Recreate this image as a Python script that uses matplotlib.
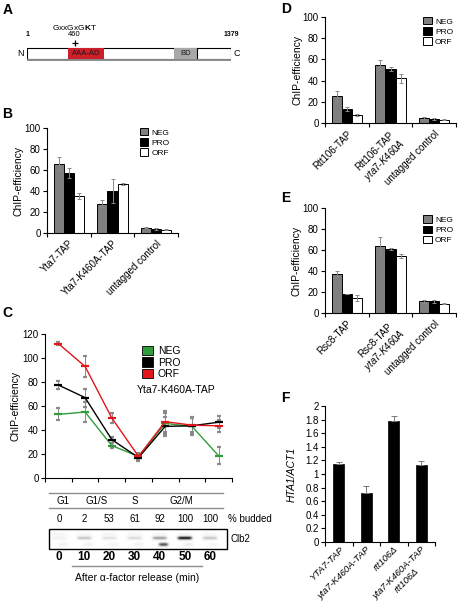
import numpy as np
import matplotlib
matplotlib.use('Agg')
import matplotlib.pyplot as plt
from matplotlib.patches import Rectangle, Patch
from matplotlib.transforms import ScaledTranslation

plt.rcParams['font.family'] = ['Liberation Sans', 'DejaVu Sans']
plt.rcParams['mathtext.fontset'] = 'custom'
plt.rcParams['mathtext.rm'] = 'Liberation Sans'
plt.rcParams['mathtext.it'] = 'Liberation Sans:italic'
plt.rcParams['mathtext.bf'] = 'Liberation Sans:bold'

# ---------------- data ----------------
series = ['NEG', 'PRO', 'ORF']
bar_colors = ['#7f7f7f', '#000000', '#ffffff']

# panel A (protein schematic, residue units)
prot_len = 1379
motif_pos = 323
motif_label = '460'
motif_seq = 'GxxGxG$\\mathbf{K}$T'
domains = [('AAA-AD', 275, 524, '#cc1f2a'), ('BD', 995, 1150, '#a8a8a8')]

# panel B
b_cats = ['Yta7-TAP', 'Yta7-K460A-TAP', 'untagged control']
b_vals = {'NEG': [66, 28, 5], 'PRO': [57, 40, 4], 'ORF': [35, 47, 3]}
b_err = {'NEG': [6, 3, 0.7], 'PRO': [5, 11, 0.7], 'ORF': [3, 1, 0.5]}

# panel C
c_times = [0, 10, 20, 30, 40, 50, 60]
c_vals = {'NEG': [53, 55, 27, 18, 45.5, 43, 18.5],
          'PRO': [77.5, 67, 32, 17, 43, 43.5, 46.5],
          'ORF': [112, 93, 50, 18, 47, 44, 43.5]}
c_err = {'NEG': [5, 8, 2, 3, 9, 7, 7],
         'PRO': [3.5, 7.5, 2.5, 2.5, 8, 7, 5],
         'ORF': [1, 9, 4.5, 2, 9, 6, 5]}
c_colors = {'NEG': '#2f9e3a', 'PRO': '#000000', 'ORF': '#e3161c'}
phases = ['G1', 'G1/S', 'S', 'G2/M']
phase_pos = [0.15, 1.5, 3.0, 4.85]
budded = [0, 2, 53, 61, 92, 100, 100]
clb2_upper = [0.12, 0.35, 0.22, 0.25, 0.5, 0.95, 0.35]
clb2_lower = [0.10, 0.12, 0.10, 0.12, 0.75, 0.15, 0.08]

# panel D
d_cats = ['Rtt106-TAP', 'Rtt106-TAP\n$\\it{yta7}$-$\\it{K460A}$', 'untagged control']
d_vals = {'NEG': [25, 55, 5], 'PRO': [13, 51, 4], 'ORF': [7.5, 42, 3]}
d_err = {'NEG': [5, 4, 1], 'PRO': [2, 2, 1], 'ORF': [1, 4, 0.5]}

# panel E
e_cats = ['Rsc8-TAP', 'Rsc8-TAP\n$\\it{yta7}$-$\\it{K460A}$', 'untagged control']
e_vals = {'NEG': [37, 64, 11], 'PRO': [18, 61, 11], 'ORF': [14, 54, 9]}
e_err = {'NEG': [3, 8, 1], 'PRO': [0.3, 1, 1], 'ORF': [3, 2, 0.5]}

# panel F
f_cats = ['YTA7-TAP', 'yta7-K460A-TAP', 'rtt106Δ', 'yta7-K460A-TAP\nrtt106Δ']
f_vals = [1.15, 0.72, 1.78, 1.13]
f_err = [0.03, 0.10, 0.07, 0.06]

# ---------------- figure ----------------
W, H = 458, 612
fig = plt.figure(figsize=(W / 100, H / 100), dpi=100)


def px_axes(x0, y0, x1, y1):
    return fig.add_axes([x0 / W, 1 - y1 / H, (x1 - x0) / W, (y1 - y0) / H])


def style(ax):
    for s in ['top', 'right']:
        ax.spines[s].set_visible(False)
    for s in ['left', 'bottom']:
        ax.spines[s].set_linewidth(0.8)
    ax.tick_params(axis='y', direction='out', length=3, width=0.8, labelsize=7, pad=1.5)


def cat_xaxis(ax, n, labels, fontsize=7, style_=None, dx=4, pad=4):
    ax.set_xlim(-0.5, n - 0.5)
    ax.set_xticks(np.arange(n))
    ax.set_xticklabels(labels, rotation=45, ha='right', rotation_mode='anchor',
                       fontsize=fontsize, multialignment='center')
    if style_:
        for t in ax.get_xticklabels():
            t.set_fontstyle(style_)
    off = ScaledTranslation(dx / 100, 0, fig.dpi_scale_trans)
    for t in ax.get_xticklabels():
        t.set_transform(t.get_transform() + off)
    ax.tick_params(axis='x', which='major', length=0, pad=pad)
    ax.set_xticks(np.arange(-0.5, n, 1), minor=True)
    ax.tick_params(axis='x', which='minor', length=3, width=0.8, direction='out')


def bar_panel(ax, cats, vals, errs, anchor):
    style(ax)
    n = len(cats)
    x = np.arange(n)
    w = 0.23
    for i, s in enumerate(series):
        ax.bar(x + (i - 1) * w, vals[s], w, color=bar_colors[i], edgecolor='black',
               linewidth=0.7, yerr=errs[s], label=s,
               error_kw=dict(ecolor='#8a8a8a', elinewidth=0.7, capsize=1.5, capthick=0.7))
    ax.set_ylim(0, 100)
    ax.set_yticks(range(0, 101, 20))
    cat_xaxis(ax, n, cats)
    ax.set_ylabel('ChIP-efficiency', fontsize=7.5)
    ax.legend(loc='upper left', bbox_to_anchor=anchor, fontsize=6, frameon=False,
              handlelength=1.0, handleheight=1.0, labelspacing=0.2, handletextpad=0.4,
              borderaxespad=0, borderpad=0)


def panel_letter(x, y, s):
    fig.text(x / W, 1 - y / H, s, fontsize=10, fontweight='bold', ha='left', va='top')


# ---- Panel A ----
axa = px_axes(27, 20, 231, 62)
axa.set_xlim(1, prot_len)
axa.set_ylim(62, 20)
axa.axis('off')
axa.add_patch(Rectangle((1, 48), prot_len - 1, 11, facecolor='white', edgecolor='black', lw=0.8))
for name, s, e, col in domains:
    axa.add_patch(Rectangle((s, 48.4), e - s, 10.2, facecolor=col, edgecolor='none'))
    axa.text((s + e) / 2, 53.5, name, ha='center', va='center', fontsize=5.5,
             color='#1a1a1a')
axa.plot([domains[1][2], domains[1][2]], [48, 59], color='black', lw=0.8)
axa.plot([1, prot_len], [59.6, 59.6], color='#8c8c8c', lw=1.4, solid_capstyle='butt')
axa.annotate('N', xy=(1, 53.5), xytext=(-2, 0), textcoords='offset points',
             ha='right', va='center', fontsize=6.5, annotation_clip=False)
axa.annotate('C', xy=(prot_len, 53.5), xytext=(1.5, 0), textcoords='offset points',
             ha='left', va='center', fontsize=6.5, annotation_clip=False)
axa.text(1, 35, '1', ha='center', va='center', fontsize=5, fontweight='bold', clip_on=False)
axa.text(prot_len, 35, str(prot_len), ha='center', va='center', fontsize=5,
         fontweight='bold', clip_on=False)
axa.plot([motif_pos], [43], marker='+', color='black', ms=5, mew=0.9, clip_on=False)
axa.text(motif_pos, 35, motif_label, ha='center', va='center', fontsize=5.5, clip_on=False)
axa.text(motif_pos, 27, motif_seq, ha='center', va='center', fontsize=6, clip_on=False)

# ---- Panel B ----
axb = px_axes(47, 128, 178, 233)
bar_panel(axb, b_cats, b_vals, b_err, (0.71, 1.0))
axb.yaxis.set_label_coords(-0.18, 0.5)

# ---- Panel D ----
axd = px_axes(325, 17, 456, 123)
bar_panel(axd, d_cats, d_vals, d_err, (0.75, 1.0))
axd.yaxis.set_label_coords(-0.17, 0.5)

# ---- Panel E ----
axe = px_axes(325, 208, 456, 313)
bar_panel(axe, e_cats, e_vals, e_err, (0.75, 0.93))
axe.yaxis.set_label_coords(-0.18, 0.5)

# ---- Panel C ----
axc = px_axes(45, 334, 232, 478)
style(axc)
xc = np.arange(len(c_times))
for s in series:
    axc.errorbar(xc, c_vals[s], yerr=c_err[s], color=c_colors[s], ecolor='#8a8a8a',
                 elinewidth=0.7, capsize=1.5, capthick=0.7, marker='_', markersize=6,
                 mew=1.6, lw=1.0)
axc.set_xlim(-0.5, len(c_times) - 0.5)
axc.set_ylim(0, 120)
axc.set_yticks(range(0, 121, 20))
axc.set_xticks(np.arange(-0.5, len(c_times), 1))
axc.set_xticklabels([])
axc.tick_params(axis='x', length=3, width=0.8, direction='out')
axc.set_ylabel('ChIP-efficiency', fontsize=7.5)
axc.yaxis.set_label_coords(-0.13, 0.5)
handles = [Patch(facecolor=c_colors[s], edgecolor='black', lw=0.6, label=s) for s in series]
axc.legend(handles=handles, loc='upper left', bbox_to_anchor=(0.52, 0.92), fontsize=7.5,
           frameon=False, handlelength=1.0, handleheight=1.0, labelspacing=0.15,
           handletextpad=0.5, borderaxespad=0, borderpad=0)
axc.text(0.49, 0.61, 'Yta7-K460A-TAP', transform=axc.transAxes, fontsize=7.5,
         ha='left', va='center')

# ---- Table / blot under C ----
x0l, x1l = -0.397, 6.667
axt = px_axes(49, 488, 227, 588)
axt.set_xlim(x0l, x1l)
axt.set_ylim(588, 488)
axt.axis('off')
axt.plot([x0l, 6.51], [493, 493], color='#8c8c8c', lw=1.0, clip_on=False)
axt.plot([x0l, 6.51], [508, 508], color='#8c8c8c', lw=1.0, clip_on=False)
for p, lab in zip(phase_pos, phases):
    axt.text(p, 501, lab, ha='center', va='center', fontsize=7)
for i, b in enumerate(budded):
    axt.text(i, 519, str(b), ha='center', va='center', fontsize=7)
axt.text(6.69, 519, '% budded', ha='left', va='center', fontsize=7, clip_on=False)
# blot
nx, ny = 356, 40
xs = np.linspace(x0l, x1l, nx)
ys = np.linspace(0, 1, ny)
img = np.zeros((ny, nx))
for i, (a, b) in enumerate(zip(clb2_upper, clb2_lower)):
    px_ = np.exp(-((xs - i) / 0.3) ** 6)
    img += a * np.outer(np.exp(-((ys - 0.45) / 0.09) ** 2), px_)
    img += b * np.outer(np.exp(-((ys - 0.78) / 0.1) ** 2), np.exp(-((xs - i - 0.15) / 0.2) ** 4))
    img += 0.08 * np.outer(np.exp(-((ys - 0.25) / 0.08) ** 2), px_)
axt.imshow(np.clip(img, 0, 1), cmap='Greys', vmin=0, vmax=1, aspect='auto',
           extent=(x0l, x1l, 549, 529), interpolation='bilinear', zorder=1)
axt.add_patch(Rectangle((x0l, 529), x1l - x0l, 20, facecolor='none', edgecolor='black',
                        lw=1.0, zorder=2, clip_on=False))
axt.text(6.79, 539.5, 'Clb2', ha='left', va='center', fontsize=7, clip_on=False)
for i, t in enumerate(c_times):
    axt.text(i, 557, str(t), ha='center', va='center', fontsize=8.5, fontweight='bold')
axt.plot([0.52, 5.67], [566, 566], color='#8c8c8c', lw=1.0)
axt.text(3.1, 578, 'After α-factor release (min)', ha='center', va='center', fontsize=7.5)

# ---- Panel F ----
axf = px_axes(325, 406, 435, 542)
style(axf)
xf = np.arange(len(f_cats))
axf.bar(xf, f_vals, 0.4, color='black', edgecolor='black', linewidth=0.5,
        yerr=[np.zeros(len(f_err)), f_err],
        error_kw=dict(ecolor='#7a7a7a', elinewidth=0.7, capsize=2, capthick=0.7))
axf.set_ylim(0, 2)
fticks = np.round(np.arange(0, 2.01, 0.2), 1)
axf.set_yticks(fticks)
axf.set_yticklabels([f'{v:g}' for v in fticks])
cat_xaxis(axf, len(f_cats), f_cats, fontsize=6.8, style_='italic', dx=3, pad=2)
axf.set_ylabel('HTA1/ACT1', fontsize=7.5, fontstyle='italic')
axf.yaxis.set_label_coords(-0.26, 0.5)

panel_letter(3, 3, 'A')
panel_letter(2, 107, 'B')
panel_letter(2, 306, 'C')
panel_letter(281, 2, 'D')
panel_letter(281, 191, 'E')
panel_letter(281, 391, 'F')

fig.savefig('out.png', dpi=100)
